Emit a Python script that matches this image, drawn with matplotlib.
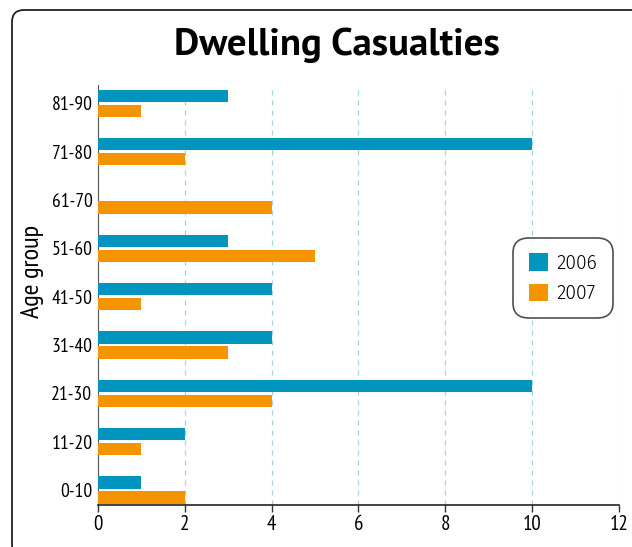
import matplotlib
matplotlib.use("Agg")
import matplotlib.pyplot as plt
from matplotlib.patches import FancyBboxPatch, Patch
from matplotlib.transforms import IdentityTransform
import numpy as np

categories = ["0-10", "11-20", "21-30", "31-40", "41-50", "51-60", "61-70", "71-80", "81-90"]
values_2006 = [1, 2, 10, 4, 4, 3, 0, 10, 3]
values_2007 = [2, 1, 4, 3, 1, 5, 4, 2, 1]
series_names = ["2006", "2007"]
xticks = [0, 2, 4, 6, 8, 10, 12]

c06 = "#0094BE"
c07 = "#F39400"
tick_font = ["PT Sans Narrow", "DejaVu Sans"]
title_font = ["PT Sans", "DejaVu Sans"]
legend_font = ["Fira Sans", "DejaVu Sans"]

fig = plt.figure(figsize=(6.32, 5.47), dpi=100)
border = FancyBboxPatch((12, -10), 640, 547,
                        boxstyle="round,pad=0,rounding_size=12",
                        transform=IdentityTransform(), fill=False,
                        edgecolor="#222222", linewidth=1.3, clip_on=False)
fig.patches.append(border)

ax = fig.add_axes([98/632, 1 - 505/547, (619 - 98)/632, (505 - 85)/547])
y = np.arange(len(categories))
h = 0.25
off = 0.155
ax.barh(y + off, values_2006, height=h, color=c06, label=series_names[0], zorder=3)
ax.barh(y - off, values_2007, height=h, color=c07, label=series_names[1], zorder=3)

ax.set_xlim(0, 12)
ax.set_ylim(-0.31, 8.38)
ax.set_xticks(xticks)
ax.set_yticks(y)
ax.set_yticklabels(categories, fontfamily=tick_font, fontsize=14)
for lab in ax.get_xticklabels():
    lab.set_fontfamily(tick_font)
    lab.set_fontsize(15)
ax.tick_params(axis="y", length=0, pad=4)
ax.tick_params(axis="x", length=5, width=1, color="#333333", pad=2)
ax.grid(axis="x", color="#9ed3e6", linestyle=(0, (4, 4)), linewidth=0.9, zorder=0)
ax.spines["top"].set_visible(False)
ax.spines["right"].set_visible(False)
ax.spines["left"].set_color("#555555")
ax.spines["bottom"].set_color("#222222")
ax.spines["bottom"].set_linewidth(1.2)

fig.text(33/632, 1 - 271/547, "Age group", rotation=90, ha="center", va="center",
         fontsize=19, fontfamily=tick_font)
fig.text(337/632, 1 - 45/547, "Dwelling Casualties", ha="center", va="center",
         fontsize=28, fontweight="bold", fontfamily=title_font)

handles = [Patch(facecolor=c06), Patch(facecolor=c07)]
leg = ax.legend(handles, series_names, loc="center", bbox_to_anchor=((563-98)/(619-98), 1 - (278-85)/(505-85)),
                frameon=True, fancybox=True, handlelength=1.0, handleheight=1.0,
                borderpad=0.8, labelspacing=0.55, handletextpad=0.45,
                prop={"family": legend_font, "size": 14, "weight": 300})
leg.get_frame().set_edgecolor("#222222")
leg.get_frame().set_linewidth(1.2)
leg.get_frame().set_boxstyle("round,pad=0,rounding_size=0.8")

fig.savefig("out.png", dpi=100)
